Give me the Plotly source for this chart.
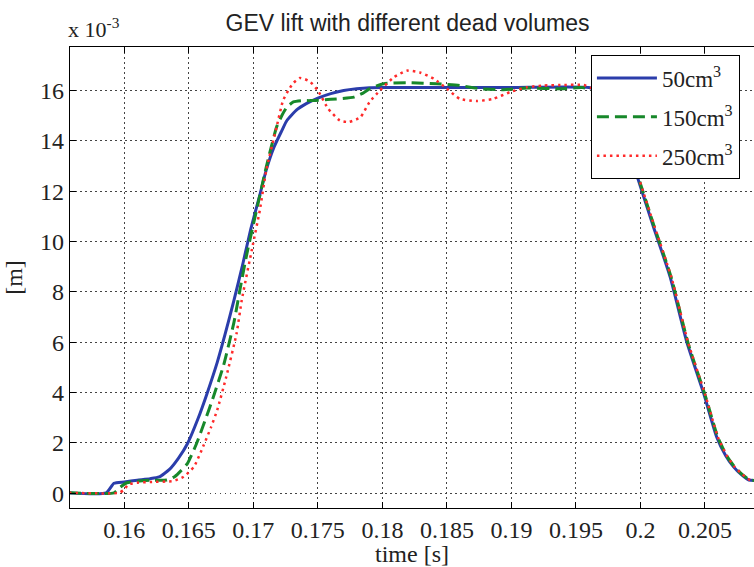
import plotly.graph_objects as go

# ---- data (lift in units of 1e-3 m) ----
t_50 = [0.1557, 0.1586, 0.1592, 0.1600, 0.1610, 0.1620, 0.1627, 0.1635, 0.1642, 0.1649,
        0.1657, 0.1664, 0.1672, 0.1678, 0.1685, 0.1692, 0.1698, 0.1705, 0.1710, 0.1716,
        0.1722, 0.1726, 0.1734, 0.1741, 0.1750, 0.1760, 0.1770, 0.1780, 0.1790, 0.1800,
        0.1850, 0.1900, 0.1960, 0.1966, 0.1972, 0.1980, 0.1990, 0.1998, 0.2010, 0.2023,
        0.2036, 0.2049, 0.2059, 0.2066, 0.2072, 0.2078, 0.2084, 0.2095]
lift_50 = [0.02, 0.02, 0.40, 0.45, 0.52, 0.58, 0.65, 0.95, 1.40, 1.98,
           2.95, 3.95, 5.20, 6.30, 7.67, 9.15, 10.50, 11.85, 12.85, 13.75,
           14.40, 14.81, 15.25, 15.48, 15.70, 15.88, 16.00, 16.07, 16.11, 16.12,
           16.12, 16.12, 16.12, 16.00, 15.70, 15.00, 13.80, 12.50, 10.60, 8.60,
           6.00, 3.97, 2.25, 1.50, 1.06, 0.75, 0.53, 0.50]

t_150 = [0.1557, 0.1592, 0.1597, 0.1602, 0.1610, 0.1620, 0.1633, 0.1639, 0.1644, 0.1649,
         0.1656, 0.1663, 0.1669, 0.1677, 0.1685, 0.1690, 0.1695, 0.1703, 0.1710, 0.1718,
         0.1722, 0.1726, 0.1731, 0.1737, 0.1744, 0.1760, 0.1778, 0.1785, 0.1790, 0.1801,
         0.1821, 0.1842, 0.1860, 0.1876, 0.1894, 0.1912, 0.1938, 0.1955, 0.1962, 0.1967,
         0.1973, 0.1981, 0.1991, 0.1999, 0.2011, 0.2024, 0.2037, 0.2050, 0.2060, 0.2067,
         0.2073, 0.2079, 0.2085, 0.2095]
lift_150 = [0.02, 0.02, 0.25, 0.42, 0.48, 0.52, 0.53, 0.66, 0.90, 1.19,
            1.98, 2.95, 3.83, 5.10, 6.80, 8.20, 9.52, 11.37, 12.96, 14.55,
            15.00, 15.34, 15.55, 15.60, 15.60, 15.65, 15.74, 15.90, 16.07, 16.27,
            16.31, 16.27, 16.20, 16.07, 16.03, 16.10, 16.07, 16.12, 16.05, 15.95,
            15.65, 14.95, 13.75, 12.45, 10.55, 8.55, 5.95, 3.92, 2.22, 1.48,
            1.05, 0.74, 0.53, 0.50]

t_250 = [0.1557, 0.1596, 0.1600, 0.1603, 0.1610, 0.1620, 0.1638, 0.1646, 0.1654, 0.1661,
         0.1667, 0.1672, 0.1679, 0.1687, 0.1691, 0.1699, 0.1705, 0.1710, 0.1718, 0.1723,
         0.1727, 0.1731, 0.1736, 0.1740, 0.1744, 0.1750, 0.1758, 0.1767, 0.1774, 0.1783,
         0.1790, 0.1798, 0.1809, 0.1819, 0.1829, 0.1840, 0.1850, 0.1860, 0.1873, 0.1886,
         0.1899, 0.1912, 0.1925, 0.1938, 0.1956, 0.1962, 0.1967, 0.1973, 0.1981, 0.1991,
         0.1999, 0.2011, 0.2024, 0.2037, 0.2050, 0.2060, 0.2067, 0.2073, 0.2079, 0.2085,
         0.2095]
lift_250 = [0.02, 0.02, 0.15, 0.35, 0.42, 0.45, 0.49, 0.66, 1.06, 1.85,
            2.60, 3.31, 4.63, 6.35, 7.67, 9.72, 11.24, 12.83, 14.55, 15.60,
            16.00, 16.30, 16.50, 16.45, 16.35, 16.00, 15.28, 14.81, 14.75, 14.94,
            15.54, 16.00, 16.53, 16.79, 16.72, 16.47, 16.07, 15.67, 15.58, 15.67,
            15.94, 16.13, 16.20, 16.22, 16.22, 16.10, 15.98, 15.68, 14.98, 13.78,
            12.48, 10.58, 8.58, 5.98, 3.95, 2.24, 1.49, 1.05, 0.75, 0.53,
            0.50]

series_names = ["50cm<sup>3</sup>", "150cm<sup>3</sup>", "250cm<sup>3</sup>"]
x_ticks = [0.16, 0.165, 0.17, 0.175, 0.18, 0.185, 0.19, 0.195, 0.2, 0.205]
x_tick_labels = ["0.16", "0.165", "0.17", "0.175", "0.18", "0.185", "0.19", "0.195", "0.2", "0.205"]
y_ticks = [0, 2, 4, 6, 8, 10, 12, 14, 16]

SERIF = "Liberation Serif"
SANS = "Liberation Sans"

fig = go.Figure()
fig.add_trace(go.Scatter(x=t_50, y=lift_50, mode="lines", name=series_names[0],
                         legendgroup="a",
                         line=dict(color="#2b3dab", width=3, shape="spline", smoothing=0.5)))
fig.add_trace(go.Scatter(x=t_150, y=lift_150, mode="lines", name=series_names[1],
                         legendgroup="b",
                         line=dict(color="#17882a", width=3, dash="12px,6px",
                                   shape="spline", smoothing=0.5)))
fig.add_trace(go.Scatter(x=t_250, y=lift_250, mode="lines", name=series_names[2],
                         legendgroup="c",
                         line=dict(color="#ff2a2a", width=2.5, dash="2.5px,4px",
                                   shape="spline", smoothing=0.5)))

grid = dict(showgrid=True, gridcolor="#444", gridwidth=1.2, griddash="1.5px,3.5px")

fig.update_layout(
    width=754, height=567,
    margin=dict(l=70, r=0, t=47, b=59),
    paper_bgcolor="white", plot_bgcolor="white",
    title=dict(text="GEV lift with different dead volumes",
               font=dict(family=SANS, size=23, color="#222"),
               x=407.5 / 754, xref="container", xanchor="center",
               y=1 - 23 / 567, yref="container", yanchor="middle"),
    xaxis=dict(range=[0.15579, 0.2088], tickvals=x_ticks, ticktext=x_tick_labels,
               ticks="inside", ticklen=6, tickcolor="black",
               showline=True, linecolor="black", linewidth=1.2, mirror="ticks",
               zeroline=False,
               tickfont=dict(family=SERIF, size=24, color="#222"),
               title=dict(text="time [s]", font=dict(family=SERIF, size=24, color="#222"),
                          standoff=2),
               **grid),
    yaxis=dict(range=[-0.583, 17.73], tickvals=y_ticks,
               ticks="inside", ticklen=6, tickcolor="black",
               showline=True, linecolor="black", linewidth=1.2, mirror=False,
               zeroline=False,
               tickfont=dict(family=SERIF, size=24, color="#222"),
               title=dict(text="[m]", font=dict(family=SERIF, size=24, color="#222"),
                          standoff=10),
               **grid),
    legend=dict(x=0.7613, y=0.982, xanchor="left", yanchor="top",
                bgcolor="white", bordercolor="black", borderwidth=1.2,
                font=dict(family=SERIF, size=23, color="#222"),
                itemwidth=60, tracegroupgap=6),
    showlegend=True,
)

fig.add_annotation(text="x 10<sup>-3</sup>", xref="paper", yref="paper",
                   x=0, y=1, xanchor="left", yanchor="bottom", xshift=-4, yshift=3,
                   showarrow=False, font=dict(family=SERIF, size=22, color="#222"))

fig.write_html("out.html")
